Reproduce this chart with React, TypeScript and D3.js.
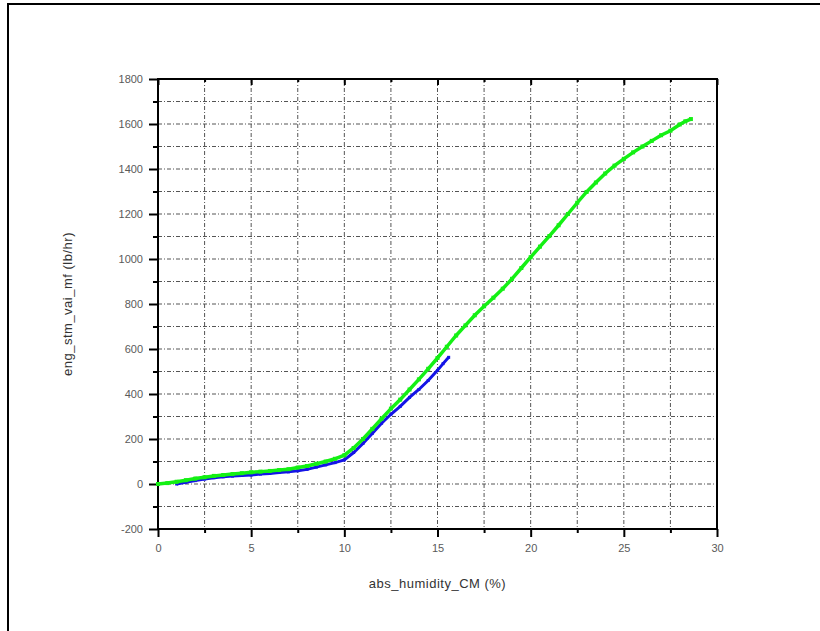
import React, { Component } from "react";
import * as d3 from "d3";

// abs_humidity_CM (%) vs eng_stm_vai_mf (lb/hr)
const greenX = [0, 0.5, 1, 1.5, 2, 2.5, 3, 3.5, 4, 4.5, 5, 5.5, 6, 6.5, 7, 7.5, 8, 8.5, 9, 9.5, 10, 10.5, 11, 11.5, 12, 12.5, 13, 13.5, 14, 14.5, 15, 15.5, 16, 16.5, 17, 17.5, 18, 18.5, 19, 19.5, 20, 20.5, 21, 21.5, 22, 22.5, 23, 23.5, 24, 24.5, 25, 25.5, 26, 26.5, 27, 27.5, 28, 28.3, 28.6];
const greenY = [0, 4, 10, 17, 24, 30, 36, 40, 44, 48, 52, 55, 58, 62, 66, 73, 80, 90, 100, 112, 128, 160, 200, 245, 290, 335, 375, 420, 465, 512, 560, 610, 660, 705, 750, 790, 828, 868, 912, 960, 1008, 1055, 1102, 1150, 1200, 1250, 1298, 1340, 1380, 1415, 1445, 1474, 1500, 1525, 1550, 1570, 1598, 1612, 1622];

const blueX = [1, 1.5, 2, 2.5, 3, 3.5, 4, 4.5, 5, 5.5, 6, 6.5, 7, 7.5, 8, 8.5, 9, 9.5, 10, 10.5, 11, 11.5, 12, 12.5, 13, 13.5, 14, 14.5, 15, 15.3, 15.6];
const blueY = [0, 8, 15, 22, 28, 32, 35, 38, 40, 44, 47, 51, 54, 59, 65, 75, 85, 95, 107, 140, 180, 225, 270, 310, 345, 385, 420, 460, 505, 535, 563];

const xTicks = [0, 5, 10, 15, 20, 25, 30];
const yTicks = [-200, 0, 200, 400, 600, 800, 1000, 1200, 1400, 1600, 1800];

class LineChart extends Component {
  ref = React.createRef<SVGSVGElement>();

  componentDidMount() {
    this.drawChart();
  }

  drawChart() {
    const svg = d3.select(this.ref.current);
    svg.selectAll("*").remove();

    const x = d3.scaleLinear().domain([0, 30]).range([158, 717]);
    const y = d3.scaleLinear().domain([-200, 1800]).range([529, 79]);

    // outer frame (only left and top show)
    svg.append("rect")
      .attr("x", 8).attr("y", 4)
      .attr("width", 900).attr("height", 900)
      .attr("fill", "white")
      .attr("stroke", "#000").attr("stroke-width", 2);

    // grid
    const gx = d3.range(2.5, 30, 2.5);
    const gy = d3.range(-100, 1800, 100);
    svg.selectAll(".vgrid").data(gx).enter().append("line")
      .attr("x1", d => x(d)).attr("x2", d => x(d))
      .attr("y1", y(1800)).attr("y2", y(-200))
      .attr("stroke", "#555").attr("stroke-width", 1)
      .attr("stroke-dasharray", "4,2,1,2");
    svg.selectAll(".hgrid").data(gy).enter().append("line")
      .attr("x1", x(0)).attr("x2", x(30))
      .attr("y1", d => y(d)).attr("y2", d => y(d))
      .attr("stroke", "#555").attr("stroke-width", 1)
      .attr("stroke-dasharray", "4,2,1,2");

    // axes
    const tickText = (g: any) => g.selectAll("text")
      .attr("fill", "#5a5a5a")
      .attr("font-family", "'Liberation Sans', Arial, sans-serif")
      .attr("font-size", 11);
    const plain = (d: any) => String(d);

    svg.append("g")
      .attr("transform", `translate(${x(0)},0)`)
      .call(d3.axisLeft(y).tickValues(yTicks).tickSize(9).tickPadding(6).tickFormat(plain))
      .call(g => g.select(".domain").remove())
      .call(tickText);
    svg.append("g")
      .attr("transform", `translate(${x(0)},0)`)
      .call(d3.axisLeft(y).tickValues(d3.range(-100, 1800, 200)).tickSize(5).tickFormat(() => ""))
      .call(g => g.select(".domain").remove());

    svg.append("g")
      .attr("transform", `translate(0,${y(-200)})`)
      .call(d3.axisBottom(x).tickValues(xTicks).tickSize(8).tickPadding(7).tickFormat(plain))
      .call(g => g.select(".domain").remove())
      .call(tickText);
    svg.append("g")
      .attr("transform", `translate(0,${y(-200)})`)
      .call(d3.axisBottom(x).tickValues(d3.range(2.5, 30, 5)).tickSize(4).tickFormat(() => ""))
      .call(g => g.select(".domain").remove());

    // top ticks point inward
    svg.append("g")
      .attr("transform", `translate(0,${y(1800)})`)
      .call(d3.axisBottom(x).tickValues(xTicks).tickSize(6).tickFormat(() => ""))
      .call(g => g.select(".domain").remove());
    svg.append("g")
      .attr("transform", `translate(0,${y(1800)})`)
      .call(d3.axisBottom(x).tickValues(d3.range(2.5, 30, 5)).tickSize(3).tickFormat(() => ""))
      .call(g => g.select(".domain").remove());

    svg.selectAll(".tick line").attr("stroke", "#000").attr("stroke-width", 2);

    svg.append("rect")
      .attr("x", x(0)).attr("y", y(1800))
      .attr("width", x(30) - x(0)).attr("height", y(-200) - y(1800))
      .attr("fill", "none").attr("stroke", "#000").attr("stroke-width", 2);

    // series
    const line = d3.line<[number, number]>()
      .x(d => x(d[0]))
      .y(d => y(d[1]));

    const blue: [number, number][] = blueX.map((v, i) => [v, blueY[i]]);
    const green: [number, number][] = greenX.map((v, i) => [v, greenY[i]]);

    svg.append("path").datum(blue)
      .attr("d", line)
      .attr("fill", "none").attr("stroke", "#1414e6").attr("stroke-width", 3);
    svg.selectAll(".bdot").data(blue).enter().append("rect")
      .attr("x", d => x(d[0]) - 1.5).attr("y", d => y(d[1]) - 1.5)
      .attr("width", 3).attr("height", 3).attr("fill", "#1414e6");

    svg.append("path").datum(green)
      .attr("d", line)
      .attr("fill", "none").attr("stroke", "#14f014").attr("stroke-width", 3.5);
    svg.selectAll(".gdot").data(green).enter().append("rect")
      .attr("x", d => x(d[0]) - 2).attr("y", d => y(d[1]) - 2)
      .attr("width", 4).attr("height", 4).attr("fill", "#14f014");

    // axis titles
    svg.append("text")
      .attr("x", (x(0) + x(30)) / 2).attr("y", 588)
      .attr("text-anchor", "middle")
      .attr("font-family", "'Liberation Sans', Arial, sans-serif")
      .attr("font-size", 13).attr("fill", "#333")
      .attr("letter-spacing", 0.5)
      .text("abs_humidity_CM (%)");

    svg.append("text")
      .attr("transform", `translate(72,${(y(-200) + y(1800)) / 2}) rotate(-90)`)
      .attr("text-anchor", "middle")
      .attr("font-family", "'Liberation Sans', Arial, sans-serif")
      .attr("font-size", 13).attr("fill", "#333")
      .attr("letter-spacing", 0.5)
      .text("eng_stm_vai_mf (lb/hr)");
  }

  render() {
    return (
      <svg ref={this.ref} width={820} height={631}
        style={{ position: "absolute", left: 0, top: 0, background: "white" }} />
    );
  }
}

export default function App() {
  return <LineChart />;
}
